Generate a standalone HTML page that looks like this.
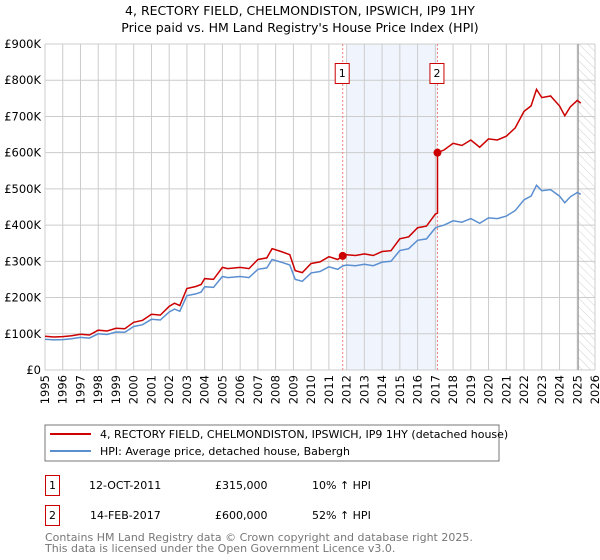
<!DOCTYPE html>
<html><head><meta charset="utf-8"><style>
body{margin:0;background:#fff}
svg{display:block;font-family:"DejaVu Sans","Liberation Sans",sans-serif}
</style></head><body>
<svg width="600" height="560" viewBox="0 0 600 560">
<defs><pattern id="hatch" width="6" height="6" patternUnits="userSpaceOnUse" patternTransform="rotate(-45)"><line x1="0" y1="0" x2="0" y2="6" stroke="#bbb" stroke-width="0.7"/></pattern></defs>
<text x="300" y="15" text-anchor="middle" font-size="12.5">4, RECTORY FIELD, CHELMONDISTON, IPSWICH, IP9 1HY</text>
<text x="300" y="32" text-anchor="middle" font-size="12.5">Price paid vs. HM Land Registry's House Price Index (HPI)</text>
<g id="plot"></g>
<rect x="45" y="425" width="454" height="36" fill="#fff" stroke="#777"/>
<line x1="50" y1="434" x2="91" y2="434" stroke="#cc0000" stroke-width="2"/>
<text x="100" y="438" font-size="11">4, RECTORY FIELD, CHELMONDISTON, IPSWICH, IP9 1HY (detached house)</text>
<line x1="50" y1="451" x2="91" y2="451" stroke="#5b8fd0" stroke-width="2"/>
<text x="100" y="455" font-size="11">HPI: Average price, detached house, Babergh</text>
<g font-size="11">
<rect x="45.5" y="475.5" width="14" height="20" fill="#fff" stroke="#cc0000"/>
<text x="52.5" y="489" text-anchor="middle">1</text>
<text x="89" y="489">12-OCT-2011</text><text x="215" y="489">£315,000</text><text x="312" y="489">10% ↑ HPI</text>
<rect x="45.5" y="505.5" width="14" height="20" fill="#fff" stroke="#cc0000"/>
<text x="52.5" y="519" text-anchor="middle">2</text>
<text x="90" y="519">14-FEB-2017</text><text x="215" y="519">£600,000</text><text x="312" y="519">52% ↑ HPI</text>
</g>
<text x="45" y="541" font-size="11" fill="#777">Contains HM Land Registry data © Crown copyright and database right 2025.</text>
<text x="45" y="552" font-size="11" fill="#777">This data is licensed under the Open Government Licence v3.0.</text>
</svg>
<script>
const hpiYears=[1995,1995.5,1996,1996.5,1997,1997.5,1998,1998.5,1999,1999.5,2000,2000.5,2001,2001.5,2002,2002.3,2002.6,2003,2003.5,2003.8,2004,2004.5,2005,2005.3,2006,2006.5,2007,2007.5,2007.8,2008.3,2008.8,2009.1,2009.5,2010,2010.5,2011,2011.5,2011.78,2012,2012.5,2013,2013.5,2014,2014.5,2015,2015.5,2016,2016.5,2017,2017.12,2017.5,2018,2018.5,2019,2019.5,2020,2020.5,2021,2021.5,2022,2022.4,2022.7,2023,2023.5,2024,2024.3,2024.6,2025,2025.2];
const hpiValues=[85,83,84,86,90,88,100,98,105,104,120,125,140,138,160,168,162,205,210,215,230,228,258,255,258,255,278,282,305,298,290,250,245,268,272,285,278,287,290,288,292,288,298,300,330,335,358,362,392,395,400,412,408,418,405,420,418,425,440,470,480,510,495,498,480,462,478,490,485];
const saleYears=[2011.78,2017.12];
const salePrices=[315,600];
const yTicks=[0,100,200,300,400,500,600,700,800,900];
const yTickLabels=["£0","£100K","£200K","£300K","£400K","£500K","£600K","£700K","£800K","£900K"];
const xTicks=[1995,1996,1997,1998,1999,2000,2001,2002,2003,2004,2005,2006,2007,2008,2009,2010,2011,2012,2013,2014,2015,2016,2017,2018,2019,2020,2021,2022,2023,2024,2025,2026];
const X0=45,X1=595,Y0=370,Y1=44;
const xs=v=>X0+(v-1995)/(2026-1995)*(X1-X0);
const ys=v=>Y0-v/900*(Y0-Y1);
const NS="http://www.w3.org/2000/svg";
const plot=document.getElementById('plot');
function mk(t,a,p){const e=document.createElementNS(NS,t);for(const k in a)e.setAttribute(k,a[k]);(p||plot).appendChild(e);return e;}
function interp(y){for(let i=0;i<hpiYears.length-1;i++){if(y>=hpiYears[i]&&y<=hpiYears[i+1]){const t=(y-hpiYears[i])/(hpiYears[i+1]-hpiYears[i]);return hpiValues[i]+t*(hpiValues[i+1]-hpiValues[i]);}}return hpiValues[hpiValues.length-1];}
let e=mk('rect',{x:xs(2012),y:Y1,width:xs(saleYears[1])-xs(2012),height:Y0-Y1,fill:'#f0f4fd'});


e=mk('rect',{x:xs(2025.05),y:Y1,width:X1-xs(2025.05),height:Y0-Y1,fill:'url(#hatch)'});


xTicks.forEach(t=>{const l=mk('line',{x1:xs(t),x2:xs(t),y1:Y1,y2:Y0,stroke:'#ccc'});


const tx=mk('text',{x:0,y:0,'font-size':11.5,'text-anchor':'end',transform:`translate(${xs(t)+4},${Y0+5}) rotate(-90)`});tx.textContent=t;

});
yTicks.forEach((t,i)=>{const l=mk('line',{x1:X0,x2:X1,y1:ys(t),y2:ys(t),stroke:'#ccc'});


const tx=mk('text',{x:X0-4,y:ys(t)+4,'font-size':11.5,'text-anchor':'end'});tx.textContent=yTickLabels[i];

});
e=mk('line',{x1:xs(2025.05),x2:xs(2025.05),y1:Y1,y2:Y0,stroke:'#888','stroke-width':1});


saleYears.forEach((s,i)=>{const l=mk('line',{x1:xs(s),x2:xs(s),y1:Y1,y2:Y0,stroke:'#f08080','stroke-dasharray':'2,2'});


const r=mk('rect',{x:xs(s)-7.5,y:63.5,width:14,height:20,fill:'#fff',stroke:'#cc0000'});


const tx=mk('text',{x:xs(s)-0.5,y:77,'font-size':11,'text-anchor':'middle'});tx.textContent=i+1;

});
// HPI line
let d=hpiYears.map((y,i)=>(i?'L':'M')+xs(y).toFixed(1)+','+ys(hpiValues[i]).toFixed(1)).join('');
e=mk('path',{d:d,fill:'none',stroke:'#5b8fd0','stroke-width':1.5});


// property line: indexed from sale prices
const r0=salePrices[0]/interp(saleYears[0]),r1=salePrices[0]/interp(saleYears[0]),r2=salePrices[1]/interp(saleYears[1]);
let pts=[];
hpiYears.forEach((y,i)=>{if(y<saleYears[1])pts.push([y,hpiValues[i]*(y<=saleYears[0]?r0:r1)]);});
pts.push([saleYears[1],interp(saleYears[1])*r1]);
pts.push([saleYears[1],salePrices[1]]);
hpiYears.forEach((y,i)=>{if(y>saleYears[1])pts.push([y,hpiValues[i]*r2]);});
d=pts.map((p,i)=>(i?'L':'M')+xs(p[0]).toFixed(1)+','+ys(p[1]).toFixed(1)).join('');
e=mk('path',{d:d,fill:'none',stroke:'#cc0000','stroke-width':1.5});


saleYears.forEach((s,i)=>{const c=mk('circle',{cx:xs(s),cy:ys(salePrices[i]),r:4,fill:'#cc0000'});

});
</script>
</body></html>
